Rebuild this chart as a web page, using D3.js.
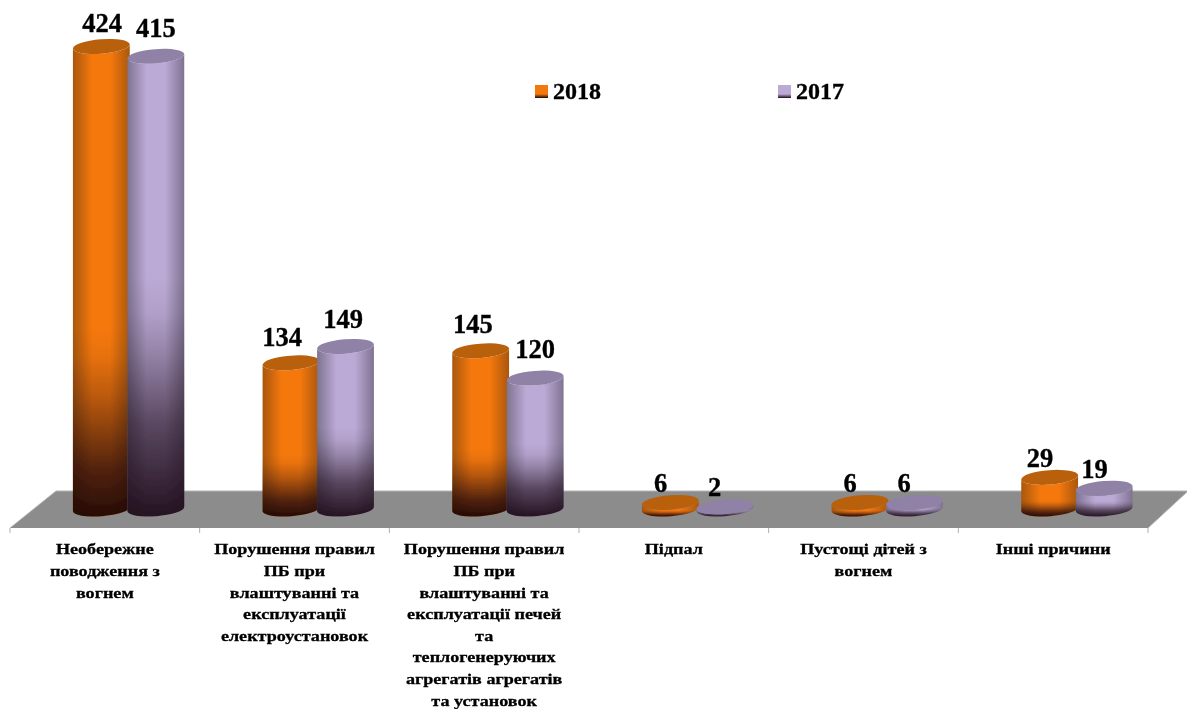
<!DOCTYPE html>
<html><head><meta charset="utf-8">
<script src="https://cdn.jsdelivr.net/npm/d3@7"></script>
<style>html,body{margin:0;background:#fff}svg{display:block}text{font-family:"Liberation Serif",serif;font-weight:bold;fill:#000;stroke:#000}</style>
</head><body><div id="c"></div>
<script>
const categories = ["Необережне поводження з вогнем","Порушення правил ПБ при влаштуванні та експлуатації електроустановок","Порушення правил ПБ при влаштуванні та експлуатації печей та теплогенеруючих агрегатів агрегатів та установок","Підпал","Пустощі дітей з вогнем","Інші причини"];
const categoryLines = [
 ["Необережне","поводження з","вогнем"],
 ["Порушення правил","ПБ при","влаштуванні та","експлуатації","електроустановок"],
 ["Порушення правил","ПБ при","влаштуванні та","експлуатації печей","та","теплогенеруючих","агрегатів агрегатів","та установок"],
 ["Підпал"],
 ["Пустощі дітей з","вогнем"],
 ["Інші причини"]];
const seriesNames = ["2018","2017"];
const values2018 = [424,134,145,6,6,29];
const values2017 = [415,149,120,2,6,19];

const W=1187,H=709;
const svg=d3.select("#c").append("svg").attr("width",W).attr("height",H);
const defs=svg.append("defs");
const x=d3.scaleBand().domain(categories).range([10,1148]);
const y=d3.scaleLinear().domain([0,424]).range([509,46.5]);
const depth=24, rx=28.5, ry=7.2, rot=-4.5, rad=rot*Math.PI/180;
const pal=[
 {id:"o",edge:"#a9570a",mid:"#f5780c",top:"#b9600d",dark:"#1c0606",fade:[[0,0],[.6,0],[.66,.06],[.75,.28],[.9,.75],[1,.95]]},
 {id:"p",edge:"#7f7391",mid:"#bcaad6",top:"#8f82a6",dark:"#1d0b18",fade:[[0,0],[.48,0],[.56,.07],[.65,.25],[.8,.62],[1,.95]]}];
pal.forEach(p=>{
 const g=defs.append("linearGradient").attr("id","h"+p.id);
 [[0,p.edge],[.34,p.mid],[.66,p.mid],[1,p.edge]].forEach(s=>g.append("stop").attr("offset",s[0]).attr("stop-color",s[1]));
 const v=defs.append("linearGradient").attr("id","v"+p.id).attr("x2",0).attr("y2",1);
 p.fade.forEach(s=>v.append("stop").attr("offset",s[0]).attr("stop-color",p.dark).attr("stop-opacity",s[1]));
 const l=defs.append("linearGradient").attr("id","l"+p.id).attr("x2",0).attr("y2",1);
 [[0,p.mid],[.7,p.mid],[1,p.dark]].forEach(s=>l.append("stop").attr("offset",s[0]).attr("stop-color",s[1]));
});
defs.append("filter").attr("id","soft").append("feGaussianBlur").attr("stdDeviation",0.6);
defs.append("filter").attr("id","softT").append("feGaussianBlur").attr("stdDeviation",0.3);

// floor
const yBack=491,yFront=528;
svg.append("path").attr("fill","#8c8c8c").attr("stroke","#b4b4b4")
 .attr("d",d3.line()([[x.range()[0],yFront],[56,yBack],[W+1,yBack],[x.range()[1],yFront]]));
// axis
const axis=svg.append("g").attr("stroke","#b0b0b0");
axis.selectAll(".t").data(d3.range(categories.length+1)).join("line")
 .attr("x1",i=>x.range()[0]+i*x.bandwidth()).attr("x2",i=>x.range()[0]+i*x.bandwidth())
 .attr("y1",yFront).attr("y2",yFront+5);

const dxE=rx*Math.cos(rad),dyE=rx*Math.sin(rad);
function body(cx,yt,yb){
 return `M${cx-dxE},${yt-dyE}L${cx-dxE},${yb-dyE}A${rx},${ry} ${rot} 0 0 ${cx+dxE},${yb+dyE}L${cx+dxE},${yt+dyE}A${rx},${ry} ${rot} 0 1 ${cx-dxE},${yt-dyE}Z`;
}
const labelNudge=[[[.7,-14.8],[0,-19.6]],[[-9,-17.1],[-2.5,-18.5]],[[-7.7,-17.8],[0,-20.1]],[[-9.6,-10.5],[-10.3,-11.1]],[[-10,-10.5],[-10.5,-10.5]],[[-9.7,-10.7],[-9.7,-10.3]]];
const marks=svg.append("g").attr("filter","url(#soft)");
const cxOf=(i,s)=>x(categories[i])+x.bandwidth()/2+depth+(s===0?-27.5:27);
[values2018,values2017].forEach((vals,s)=>{
 const p=pal[s];
 const g=marks.append("g");
 const bars=g.selectAll("g").data(vals).join("g");
 bars.append("path").attr("fill",`url(#h${p.id})`).attr("d",(d,i)=>body(cxOf(i,s),y(d),y(0)));
 bars.append("path").attr("fill",`url(#v${p.id})`).attr("d",(d,i)=>body(cxOf(i,s),y(d),y(0)));
 bars.append("ellipse").attr("fill",p.top).attr("rx",rx).attr("ry",ry)
  .attr("transform",(d,i)=>`translate(${cxOf(i,s)},${y(d)}) rotate(${rot})`);
});
// value labels
const texts=svg.append("g").attr("filter","url(#softT)");
[values2018,values2017].forEach((vals,s)=>{
 texts.append("g").attr("stroke-width",.35).selectAll("text").data(vals).join("text")
  .attr("text-anchor","middle").attr("font-size",26.5)
  .attr("x",(d,i)=>cxOf(i,s)+labelNudge[i][s][0])
  .attr("y",(d,i)=>y(d)+labelNudge[i][s][1])
  .text(d=>d);
});
// category labels
categoryLines.forEach((ls,i)=>{
 texts.append("text").attr("text-anchor","middle").attr("font-size",15.5).attr("stroke-width",.3)
  .attr("transform",`translate(${x(categories[i])+x.bandwidth()/2},0) scale(1.17,1)`)
  .selectAll("tspan").data(ls).join("tspan")
  .attr("x",0).attr("y",(d,j)=>554.5+j*21.6).text(d=>d);
});
// legend
const legX=d3.scaleOrdinal().domain(seriesNames).range([535,778]);
const leg=texts.append("g").selectAll("g").data(seriesNames).join("g").attr("transform",d=>`translate(${legX(d)},85)`);
leg.append("rect").attr("width",13).attr("height",13).attr("style","stroke:none").attr("fill",(d,i)=>`url(#l${pal[i].id})`);
leg.append("text").attr("x",18).attr("y",14).attr("font-size",24).attr("stroke-width",.35).text(d=>d);
</script></body></html>
